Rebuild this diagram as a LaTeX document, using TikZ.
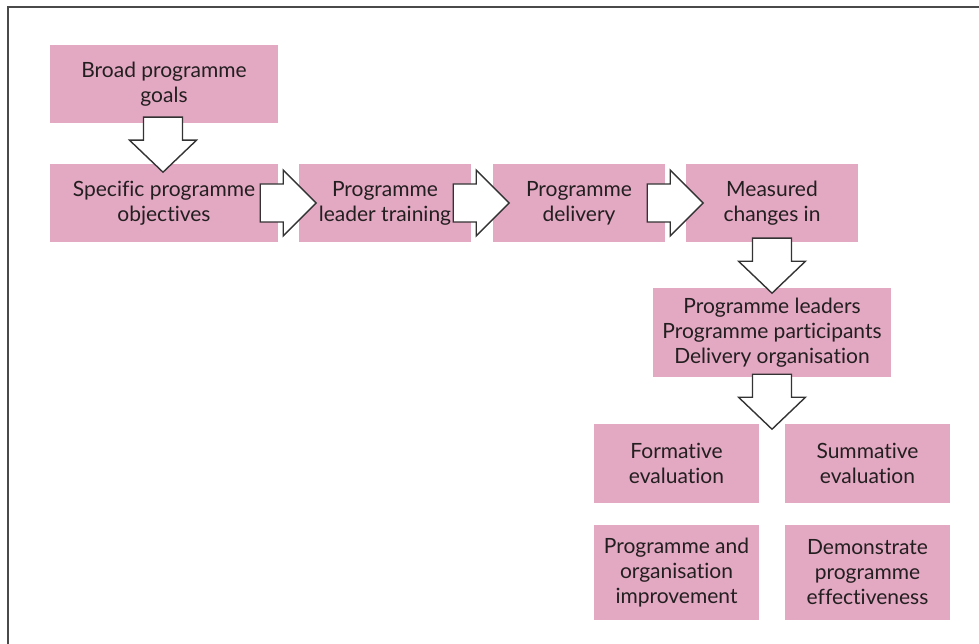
\documentclass[tikz,border=0pt]{standalone}
\usepackage{fontspec}
\setmainfont{Lato}[Ligatures=NoCommon]
\usetikzlibrary{calc}
\definecolor{boxpink}{HTML}{E3A8C2}
\definecolor{ink}{HTML}{231F20}
\definecolor{edge}{HTML}{333333}
\definecolor{framegray}{HTML}{4A4A4A}

\tikzset{
  stagebox/.style={rectangle, fill=boxpink, draw=none, inner sep=0pt,
    align=center, text=ink,
    font=\fontsize{21}{25}\selectfont},
  blockarrow/.style={fill=white, draw=edge, line width=1.4pt, line join=miter},
  outerframe/.style={draw=framegray, line width=2pt}
}

% right-pointing block arrow starting at #1 (mid-line of its tail)
\newcommand{\rightblock}[1]{%
  \draw[blockarrow] ($#1+(0,-19)$) -- ++(23,0) -- ++(0,-14) -- ++(33,33)
    -- ++(-33,33) -- ++(0,-14) -- ++(-23,0) -- cycle;}
% down-pointing block arrow starting at #1 (mid-point of its tail)
\newcommand{\downblock}[1]{%
  \draw[blockarrow] ($#1+(-19.5,0)$) -- ++(0,23) -- ++(-14,0) -- ++(33.5,32)
    -- ++(33.5,-32) -- ++(-14,0) -- ++(0,-23) -- cycle;}

\begin{document}
\begin{tikzpicture}[x=1pt, y=-1pt]
  \useasboundingbox (0,0) rectangle (979,644);

  % outer frame (open at right and bottom)
  \draw[outerframe] (7.5,650) -- (7.5,7.5) -- (985,7.5);

  % stages
  \node[stagebox, minimum width=228pt, minimum height=78pt] (broad) at (164,84)
    {Broad programme\\goals};
  \node[stagebox, minimum width=228pt, minimum height=78pt] (spec) at (164,203)
    {Specific programme\\objectives};
  \node[stagebox, minimum width=172pt, minimum height=78pt] (lead) at (385,203)
    {Programme\\leader training};
  \node[stagebox, minimum width=172pt, minimum height=78pt] (deliv) at (579,203)
    {Programme\\delivery};
  \node[stagebox, minimum width=172pt, minimum height=78pt] (meas) at (772,203)
    {Measured\\changes in};
  \node[stagebox, minimum width=238pt, minimum height=89pt] (groups) at (772,332.5)
    {Programme leaders\\Programme participants\\Delivery organisation};
  \node[stagebox, minimum width=165pt, minimum height=79pt] (form) at (676.5,463.5)
    {Formative\\evaluation};
  \node[stagebox, minimum width=165pt, minimum height=79pt] (summ) at (867.5,463.5)
    {Summative\\evaluation};
  \node[stagebox, minimum width=165pt, minimum height=95pt] (impr) at (676.5,572.5)
    {Programme and\\organisation\\improvement};
  \node[stagebox, minimum width=165pt, minimum height=95pt] (demo) at (867.5,572.5)
    {Demonstrate\\programme\\effectiveness};

  % block arrows between stages
  \downblock{(broad.south)+(-1,-6)}
  \rightblock{(spec.east)+(-18,0)}
  \rightblock{(lead.east)+(-18,0)}
  \rightblock{(deliv.east)+(-18,0)}
  \downblock{(meas.south)+(0,-4)}
  \downblock{(groups.south)+(0,-3)}
\end{tikzpicture}
\end{document}
